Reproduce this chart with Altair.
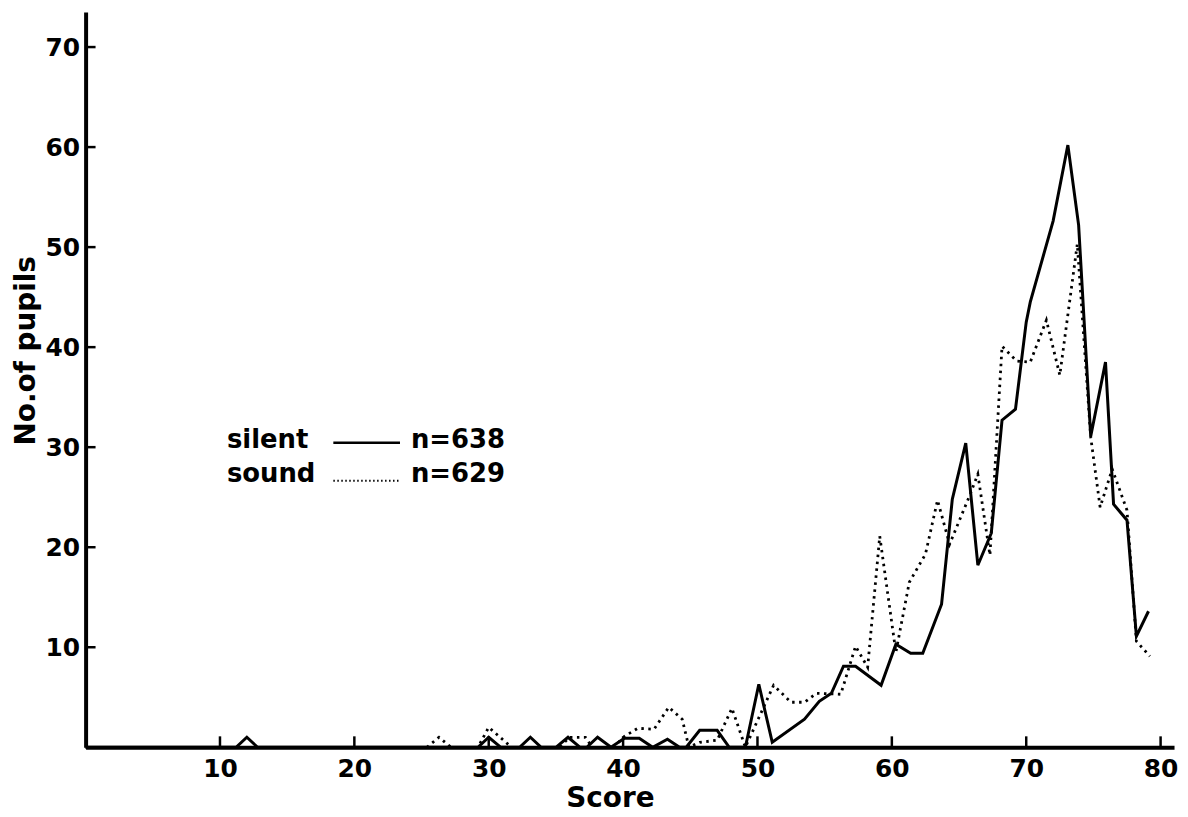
import altair as alt
import pandas as pd

# ---- data ----
silent_score = [0, 11.2, 12.0, 12.8, 29.2, 30.0, 30.9, 32.3, 33.1, 33.9, 35.0, 35.9, 36.8,
                37.3, 38.1, 39.1, 40.1, 41.2, 42.2, 43.3, 44.2, 44.7, 45.7, 47.0, 47.9, 49.1,
                50.1, 51.1, 53.5, 54.6, 55.5, 56.4, 57.3, 59.2, 60.3, 61.4, 62.3, 63.7, 64.5,
                65.5, 66.4, 67.4, 68.2, 69.2, 70.0, 70.3, 72.0, 73.1, 73.9, 74.8, 75.9, 76.5,
                77.5, 78.2, 79.1]
silent_count = [0, 0, 1, 0, 0, 1, 0, 0, 1, 0, 0, 1, 0,
                0, 1, 0, 0.9, 0.9, 0, 0.8, 0, 0, 1.7, 1.7, 0, 0,
                6.3, 0.5, 2.8, 4.6, 5.4, 8.1, 8.1, 6.2, 10.3, 9.4, 9.4, 14.3, 24.8,
                30.4, 18.2, 21.4, 32.7, 33.8, 42.5, 44.5, 52.6, 60.2, 52.2, 31.1, 38.5, 24.3,
                22.7, 11.1, 13.6]

sound_score = [0, 25.4, 26.3, 27.2, 29.2, 30.0, 31.7, 35.3, 36.0, 37.2, 37.7, 39.3, 40.1,
               41.1, 42.3, 43.4, 44.4, 44.9, 45.7, 47.0, 48.1, 49.1, 51.2, 52.5, 53.5, 54.4,
               56.2, 57.3, 58.2, 59.1, 60.3, 61.3, 62.5, 63.4, 64.3, 65.8, 66.4, 67.3, 68.2,
               69.3, 70.3, 71.5, 72.5, 73.8, 74.8, 75.5, 76.4, 77.5, 78.2, 79.2]
sound_count = [0, 0, 1, 0, 0, 2, 0, 0, 1, 1, 0, 0, 1.1,
               1.9, 1.8, 4.0, 2.8, 0, 0.5, 0.7, 3.9, 0, 6.2, 4.5, 4.5, 5.4,
               5.3, 10.1, 8.0, 21.1, 9.5, 16.5, 19.3, 24.7, 20.3, 25.2, 27.3, 19.2, 40.1,
               38.6, 38.5, 42.7, 37.2, 50.3, 31.0, 24.0, 27.8, 23.7, 10.6, 9.1]

x_ticks = [10, 20, 30, 40, 50, 60, 70, 80]
y_ticks = [10, 20, 30, 40, 50, 60, 70]
legend_labels = ["silent", "sound"]
legend_n = ["n=638", "n=629"]

FONT = "DejaVu Sans"
W, H = 1094, 739

silent_df = pd.DataFrame({"score": silent_score, "pupils": silent_count})
sound_df = pd.DataFrame({"score": sound_score, "pupils": sound_count})
xt_df = pd.DataFrame({"score": x_ticks})
yt_df = pd.DataFrame({"pupils": y_ticks})
one = pd.DataFrame({"k": [0]})

x_scale = alt.Scale(domain=[0, 81], nice=False, zero=True)
y_scale = alt.Scale(domain=[0, 73.5], nice=False, zero=True)

x_axis = alt.Axis(values=x_ticks, title="Score", grid=False, ticks=False, tickSize=0,
                  domainColor="black", domainWidth=4,
                  labelFont=FONT, labelFontWeight="bold", labelFontSize=25,
                  labelColor="black", labelPadding=9, labelFlush=False,
                  titleFont=FONT, titleFontWeight="bold", titleFontSize=28,
                  titleColor="black", titleX=527, titleY=60,
                  titleBaseline="alphabetic", titleAlign="center")
y_axis = alt.Axis(values=y_ticks, title="No.of pupils", grid=False, ticks=False, tickSize=0,
                  domainColor="black", domainWidth=4,
                  labelFont=FONT, labelFontWeight="bold", labelFontSize=25,
                  labelColor="black", labelPadding=6, labelFlush=False,
                  titleFont=FONT, titleFontWeight="bold", titleFontSize=28,
                  titleColor="black", titleAngle=-90, titleX=-51, titleY=340,
                  titleBaseline="alphabetic", titleAlign="center")

X = alt.X("score:Q", scale=x_scale, axis=x_axis)
Y = alt.Y("pupils:Q", scale=y_scale, axis=y_axis)

silent = alt.Chart(silent_df).mark_line(color="black", strokeWidth=3).encode(x=X, y=Y)
sound = alt.Chart(sound_df).mark_line(color="black", strokeWidth=2.8,
                                      strokeDash=[2.5, 4.5]).encode(x=X, y=Y)

xt = alt.Chart(xt_df).mark_rule(color="black", strokeWidth=2.5).encode(
    x=X, y=alt.value(H), y2=alt.value(H - 11))
yt = alt.Chart(yt_df).mark_rule(color="black", strokeWidth=2.5).encode(
    y=Y, x=alt.value(0), x2=alt.value(10))

def label(txt, px, py):
    return alt.Chart(one).mark_text(text=txt, font=FONT, fontWeight="bold", fontSize=26,
                                    align="left", baseline="alphabetic",
                                    color="black").encode(x=alt.value(px), y=alt.value(py))

lg_silent = label(legend_labels[0], 142, 438)
lg_sound = label(legend_labels[1], 142, 472)
lg_n1 = label(legend_n[0], 327, 438)
lg_n2 = label(legend_n[1], 327, 472)
lg_line1 = alt.Chart(one).mark_rule(color="black", strokeWidth=2.5).encode(
    x=alt.value(249), x2=alt.value(316), y=alt.value(433))
lg_line2 = alt.Chart(one).mark_rule(color="black", strokeWidth=2,
                                    strokeDash=[1.5, 2.5]).encode(
    x=alt.value(249), x2=alt.value(316), y=alt.value(471))

chart = alt.layer(silent, sound, xt, yt, lg_silent, lg_sound, lg_n1, lg_n2,
                  lg_line1, lg_line2).properties(
    width=W, height=H,
    autosize=alt.AutoSizeParams(type="none"),
    padding={"left": 78, "top": 2, "right": 6, "bottom": 66},
    background="white",
).configure_view(stroke=None)

chart.save("out.html", embed_options={"renderer": "svg", "actions": False})
